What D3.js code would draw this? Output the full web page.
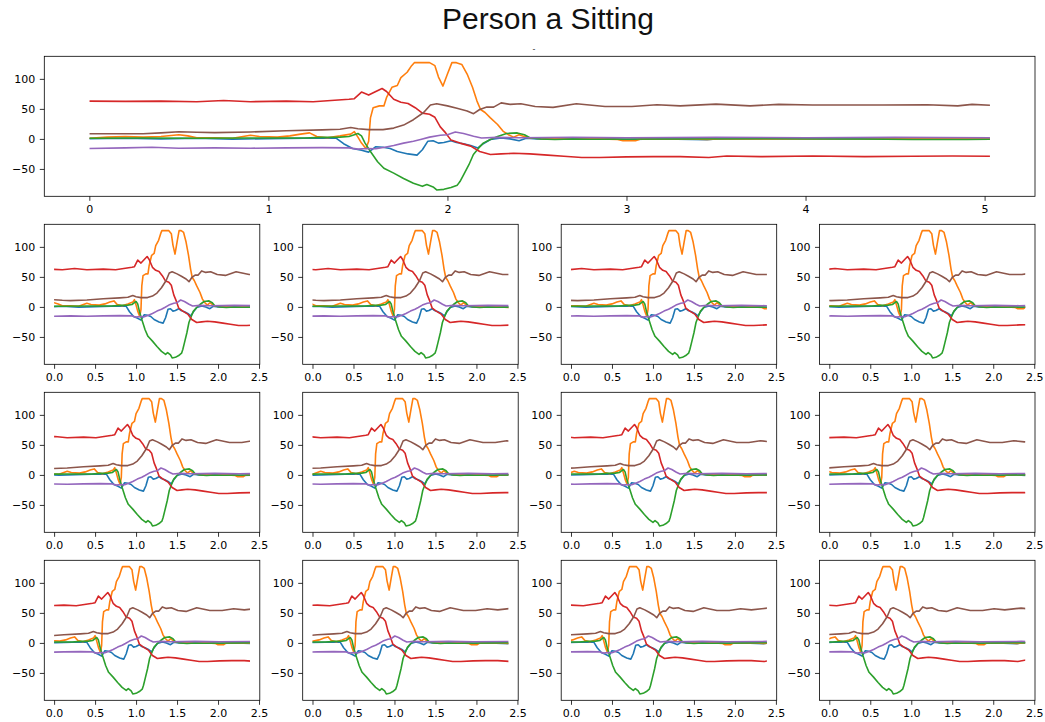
<!DOCTYPE html>
<html>
<head>
<meta charset="utf-8">
<script src="https://cdn.jsdelivr.net/npm/d3@7"></script>
<style>
  body { margin: 0; background: #fff; }
</style>
</head>
<body>
<div id="fig"></div>
<script>

// values: [time (s), value]
var blueData = [[0,0.5],[0.2,1],[0.4,0],[0.6,1],[0.8,-0.5],[1.0,0.5],[1.2,1],[1.38,1],[1.42,-8],[1.47,-16],[1.52,-19],[1.56,-22],
  [1.6,-13],[1.64,-14],[1.68,-16],[1.72,-21],[1.78,-25],[1.83,-27],[1.86,-18],[1.89,-4],[1.92,-3],[1.95,-7],[1.98,-6],
  [2.02,-3],[2.05,-6],[2.09,-8],[2.13,-11],[2.17,-15],[2.2,-8],[2.24,-1],[2.3,1.5],[2.35,0],[2.4,-3],[2.44,1],[2.5,0],
  [2.7,-0.5],[2.9,0.5],[3.0,-1],[3.2,0],[3.45,-1.5],[3.5,0],[3.8,0.5],[4.2,0],[4.6,0.5],[5.03,0.5]];

var orangeData = [[0,1],[0.1,3],[0.2,4],[0.3,3],[0.4,4],[0.5,7],[0.55,5],[0.6,2],[0.7,2],[0.8,1],[0.9,6],[0.95,4],[1.05,3],
  [1.12,5],[1.18,8],[1.23,10],[1.27,4],[1.33,2],[1.4,5],[1.46,8],[1.48,12],[1.5,3],[1.52,-7],[1.545,-16],[1.56,-4],[1.57,35],
  [1.585,52],[1.62,55],[1.645,55],[1.66,69],[1.69,86],[1.72,89],[1.74,102],[1.775,111],[1.8,122],[1.815,127],[1.9,127],
  [1.93,122],[1.95,103],[1.975,88],[2.0,108],[2.025,127],[2.05,127],[2.08,124],[2.11,108],[2.14,86],[2.165,63],[2.185,49],
  [2.21,44],[2.24,35],[2.28,24],[2.31,13],[2.34,7],[2.37,3],[2.4,7],[2.42,5],[2.46,1.5],[2.55,0.5],[2.7,1],[2.85,0],
  [2.95,-1],[2.98,-3],[3.05,-3],[3.08,0],[3.3,0.5],[3.45,-1],[3.55,0.5],[3.8,0],[4.2,0.5],[4.6,0],[5.03,0.5]];

var greenData = [[0,1],[0.3,1.5],[0.6,1],[0.9,1.5],[1.2,1.5],[1.3,2.5],[1.4,3],[1.45,4],[1.48,7],[1.5,9],[1.52,5],[1.54,-7],
  [1.57,-21],[1.61,-38],[1.645,-49],[1.7,-57],[1.755,-66],[1.81,-74],[1.86,-79],[1.885,-76],[1.92,-80],[1.94,-85],[1.98,-84],
  [2.02,-81],[2.055,-77],[2.07,-71],[2.09,-60],[2.12,-43],[2.145,-26],[2.175,-15],[2.2,-7],[2.24,-1],[2.28,4],[2.33,9],
  [2.39,10],[2.43,7],[2.46,2],[2.52,0],[2.6,-1],[2.7,0],[2.8,-0.5],[3.2,0],[3.8,0.5],[4.3,0],[4.6,-1],[4.9,-1],[5.03,-0.5]];

var redData = [[0,63],[0.2,62.5],[0.4,63],[0.6,62],[0.75,64],[0.9,62],[1.1,63],[1.25,62],[1.35,64],[1.45,66],[1.48,67],
  [1.52,78],[1.56,73],[1.6,79],[1.635,84],[1.66,79],[1.7,66],[1.74,61],[1.78,59],[1.82,52],[1.86,43],[1.9,41],[1.93,36],
  [1.96,20],[1.99,10],[2.02,-2],[2.07,-7],[2.13,-12],[2.18,-21],[2.24,-26],[2.3,-25],[2.37,-24],[2.46,-25],[2.56,-27],
  [2.65,-29],[2.75,-31],[2.85,-31],[3.0,-30],[3.15,-29.5],[3.3,-29.5],[3.46,-31],[3.56,-28.5],[3.75,-29.5],[4.04,-28.5],
  [4.33,-29.5],[4.6,-29],[4.82,-28.5],[5.03,-29]];

var purpleData = [[0,-16],[0.2,-15],[0.35,-14],[0.5,-15.5],[0.7,-15],[0.9,-15.5],[1.1,-15],[1.3,-14.5],[1.45,-15],[1.5,-17],
  [1.55,-16],[1.6,-16.5],[1.65,-14],[1.7,-11],[1.755,-7],[1.81,-4],[1.85,-1],[1.9,3],[1.96,6],[2.0,7],[2.044,11.5],[2.09,9],
  [2.146,4.5],[2.19,1.5],[2.276,2.5],[2.4,2],[2.7,2.5],[3.0,2],[3.5,2.5],[4.0,2],[4.5,2.5],[5.03,2]];

var brownData = [[0,8.5],[0.3,8.5],[0.4,10],[0.5,12],[0.6,11],[0.7,10.5],[0.9,11.5],[1.1,13.5],[1.3,15],[1.4,16],[1.46,19],
  [1.5,17],[1.56,15.5],[1.64,15.5],[1.7,18],[1.755,23],[1.81,32],[1.867,44],[1.905,56.5],[1.94,58.5],[2.0,55],[2.053,51],
  [2.11,46.5],[2.146,42],[2.18,49],[2.22,53],[2.258,53],[2.3,60],[2.35,57.5],[2.41,58.5],[2.49,54],[2.59,52.5],[2.72,58.5],
  [2.88,54],[3.03,54],[3.17,57],[3.3,55],[3.5,58],[3.69,55],[3.85,57.5],[4.04,56.5],[4.43,56.5],[4.68,57],[4.85,55],
  [4.93,57.5],[5.03,56]];

// start time of each small window (row by row)
var windowStarts = [0.50, 0.56, 0.62, 0.68, 0.74, 0.80, 0.86, 0.92, 0.98, 1.04, 1.10, 1.16];
var windowLength = 2.39;

var bigTicks = [0, 1, 2, 3, 4, 5];
var smallTicks = [0, 0.5, 1, 1.5, 2, 2.5];
var yTicks = [-50, 0, 50, 100];
var title = "Person a Sitting";

var allSeries = [blueData, orangeData, greenData, redData, purpleData, brownData];
var colors = ["#1f77b4", "#ff7f0e", "#2ca02c", "#d62728", "#9467bd", "#8c564b"];

// set the dimensions of the figure
var W = 1045, H = 722;
var fontFamily = "DejaVu Sans, sans-serif";

var svg = d3.select("#fig")
    .append("svg")
    .attr("width", W)
    .attr("height", H);

// shared y range with a 5% margin like matplotlib
var yMin = d3.min(allSeries, function (s) { return d3.min(s, function (d) { return d[1]; }); });
var yMax = d3.max(allSeries, function (s) { return d3.max(s, function (d) { return d[1]; }); });
var yPad = (yMax - yMin) * 0.05;

function drawPanel(left, top, w, h, start, span, ticks, fmt, id) {
    var g = svg.append("g")
        .attr("transform", "translate(" + left + "," + top + ")");

    var x = d3.scaleLinear()
        .domain([-span * 0.05, span * 1.05])
        .range([0, w]);
    var y = d3.scaleLinear()
        .domain([yMin - yPad, yMax + yPad])
        .range([h, 0]);

    // clip the lines to the window
    g.append("clipPath")
        .attr("id", "clip" + id)
        .append("rect")
        .attr("x", x(0))
        .attr("y", 0)
        .attr("width", x(span) - x(0))
        .attr("height", h);

    var line = d3.line()
        .x(function (d) { return x(d[0] - start); })
        .y(function (d) { return y(d[1]); });

    allSeries.forEach(function (s, i) {
        // keep the points inside the window plus one neighbour on each side
        var pts = s.filter(function (d, j) {
            var prev = j > 0 ? s[j - 1][0] : -Infinity;
            var next = j < s.length - 1 ? s[j + 1][0] : Infinity;
            return next >= start && prev <= start + span;
        });
        g.append("path")
            .datum(pts)
            .attr("clip-path", "url(#clip" + id + ")")
            .attr("fill", "none")
            .attr("stroke", colors[i])
            .attr("stroke-width", 1.6)
            .attr("stroke-linejoin", "round")
            .attr("d", line);
    });

    // Add X axis
    g.append("g")
        .attr("transform", "translate(0," + h + ")")
        .call(d3.axisBottom(x).tickValues(ticks).tickFormat(fmt).tickSize(4.5).tickPadding(4.5))
        .call(function (a) { a.select(".domain").remove(); })
        .attr("font-family", fontFamily)
        .attr("font-size", 11);

    // Add Y axis
    g.append("g")
        .call(d3.axisLeft(y).tickValues(yTicks).tickSize(4.5).tickPadding(4.5))
        .call(function (a) { a.select(".domain").remove(); })
        .attr("font-family", fontFamily)
        .attr("font-size", 11);

    g.selectAll(".tick text").attr("fill", "#000");
    g.selectAll(".tick line").attr("stroke", "#000").attr("stroke-width", 0.8);

    // frame
    g.append("rect")
        .attr("width", w)
        .attr("height", h)
        .attr("fill", "none")
        .attr("stroke", "#000")
        .attr("stroke-width", 0.8);
}

// top panel: whole recording
var fullSpan = d3.max(allSeries, function (s) { return s[s.length - 1][0]; });
drawPanel(44.3, 56.3, 990.7, 140, 0, fullSpan, bigTicks, d3.format("d"), "top");

// 3 x 4 small panels: sliding windows
var colLefts = [44.3, 302.7, 561.2, 819.5];
var rowTops = [224.3, 392.3, 560.3];
windowStarts.forEach(function (s, k) {
    var r = Math.floor(k / 4), c = k % 4;
    drawPanel(colLefts[c], rowTops[r], 215.5, 140, s, windowLength, smallTicks, d3.format(".1f"), k);
});

// title
svg.append("text")
    .attr("x", 548)
    .attr("y", 29)
    .attr("text-anchor", "middle")
    .attr("font-family", "Liberation Sans, Arial, sans-serif")
    .attr("font-size", 30)
    .attr("fill", "#111")
    .text(title);

// small leftover mark above the top panel
svg.append("text")
    .attr("x", 534)
    .attr("y", 52)
    .attr("text-anchor", "middle")
    .attr("font-family", fontFamily)
    .attr("font-size", 8)
    .attr("fill", "#333")
    .text("-");

</script>
</body>
</html>
